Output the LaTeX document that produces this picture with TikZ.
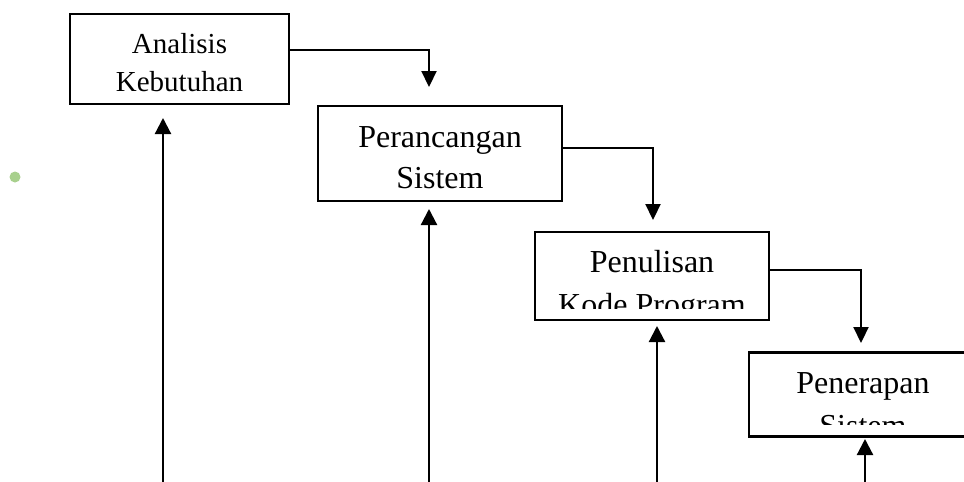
\documentclass[tikz,border=0pt]{standalone}
\usepackage{fontspec}
\setmainfont{Liberation Serif}
\usetikzlibrary{arrows.meta,calc}
\definecolor{dotgreen}{RGB}{168,208,141}
\tikzset{
  x=1pt,y=-1pt,
  stagebox/.style={draw=black,line width=2.5pt,rectangle,inner sep=0pt,fill=none},
  lbl/.style={anchor=base,inner sep=0pt},
  feed/.style={line width=1.2pt},
  drop/.style={line width=2.2pt,-{Triangle[length=16pt,width=15pt]}},
  back/.style={line width=2.2pt,-{Triangle[length=16pt,width=16pt]}}
}
\begin{document}
\begin{tikzpicture}
\useasboundingbox (0,0) rectangle (964,482);
% boxes
\node[stagebox,minimum width=219pt,minimum height=90pt] (a) at (179.5,59) {};
\node[stagebox,minimum width=244pt,minimum height=95pt] (b) at (440,153.5) {};
\node[stagebox,minimum width=234pt,minimum height=88pt] (c) at (652,276) {};
\node[stagebox,minimum width=230pt,minimum height=84pt] (d) at (864,394.5) {};
% texts
\node[lbl,font=\fontsize{29}{35}\selectfont] (a1) at (179.5,53) {Analisis};
\node[lbl,font=\fontsize{29}{35}\selectfont] (a2) at (179.5,91) {Kebutuhan};
\node[lbl,font=\fontsize{32}{40}\selectfont] (b1) at (440,147) {Perancangan};
\node[lbl,font=\fontsize{32}{40}\selectfont] (b2) at (440,188) {Sistem};
\node[lbl,font=\fontsize{32}{40}\selectfont] (c1) at (652,272) {Penulisan};
\begin{scope}
\clip (537,234) rectangle (767,308);
\node[lbl,font=\fontsize{32}{40}\selectfont] (c2) at (652,315) {Kode Program};
\end{scope}
\node[lbl,font=\fontsize{32}{40}\selectfont] (d1) at (863,393) {Penerapan};
\begin{scope}
\clip (751,355) rectangle (964,424);
\node[lbl,font=\fontsize{32}{40}\selectfont] (d2) at (863,436) {Sistem};
\end{scope}
% forward connectors
\coordinate (k1) at (429,50);
\coordinate (t1) at (429,87);
\draw[feed] ([yshift=9pt]a.east) -- (k1);
\draw[drop] ([yshift=0.6pt]k1) -- (t1);
\coordinate (k2) at (653,148);
\coordinate (t2) at (653,220);
\draw[feed] ([yshift=5.5pt]b.east) -- (k2);
\draw[drop] ([yshift=0.6pt]k2) -- (t2);
\coordinate (k3) at (861,270);
\coordinate (t3) at (861,343);
\draw[feed] ([yshift=6pt]c.east) -- (k3);
\draw[drop] ([yshift=0.6pt]k3) -- (t3);
% feedback arrows from the bottom
\coordinate (u1) at (163,490);
\coordinate (v1) at (163,118);
\draw[back] (u1) -- (v1);
\coordinate (u2) at (429,490);
\coordinate (v2) at (429,209);
\draw[back] (u2) -- (v2);
\coordinate (u3) at (657,490);
\coordinate (v3) at (657,326);
\draw[back] (u3) -- (v3);
\coordinate (u4) at (865,490);
\coordinate (v4) at (865,439);
\draw[back] (u4) -- (v4);
% bullet dot
\fill[dotgreen] (15,177) circle (5.5pt);
\end{tikzpicture}
\end{document}
